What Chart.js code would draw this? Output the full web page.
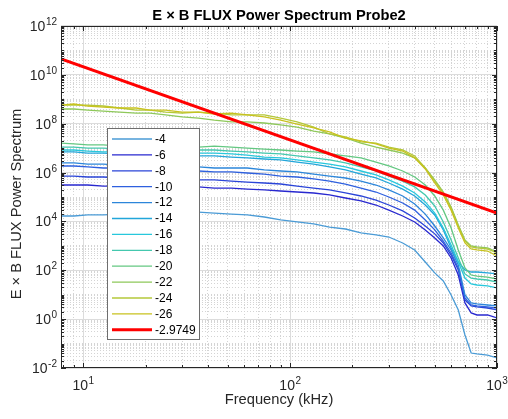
<!DOCTYPE html>
<html>
<head>
<meta charset="utf-8">
<script src="https://cdn.jsdelivr.net/npm/chart.js@4"></script>
<style>
html,body{margin:0;padding:0;background:#fff;}
#wrap{width:508px;height:419px;}
</style>
</head>
<body>
<div id="wrap"><canvas id="c" width="508" height="419"></canvas></div>
<script>
// ---- data ----
const freqKHz = [7.8, 9, 10.5, 12.5, 15, 18, 21, 25, 30, 36, 43, 52, 62, 75, 90, 108, 130, 155, 185, 220, 260, 300, 350, 400, 450, 500, 550, 600, 650, 700, 750, 800, 900, 1000];

const seriesLabels = ['-4', '-6', '-8', '-10', '-12', '-14', '-16', '-18', '-20', '-22', '-24', '-26'];

const p_m4  = [1.67e4,1.67e4,1.84e4,1.84e4,2.0e4,2.0e4,2.2e4,2.2e4,2.4e4,2.4e4,2.2e4,2.0e4,1.84e4,1.52e4,1.15e4,9.5e3,7.9e3,5.9e3,4.9e3,3.4e3,2.8e3,2.3e3,1.31e3,680,219,78,36.5,9.75,2.37,0.225,0.041,0.0375,0.034,0.0257];
const p_m6  = [3.1e5,3.1e5,3.1e5,2.8e5,2.8e5,2.8e5,2.6e5,2.6e5,2.6e5,2.6e5,2.3e5,2.3e5,2.1e5,1.94e5,1.76e5,1.6e5,1.46e5,1.21e5,9.1e4,6.9e4,4.7e4,2.9e4,1.67e4,9.5e3,4.5e3,2.1e3,990,318,64,4.6,1.79,1.48,1.48,1.12];
const p_m8  = [7.2e5,7.2e5,6.6e5,6.6e5,6.0e5,6.0e5,6.0e5,6.0e5,5.5e5,5.0e5,5.0e5,4.5e5,4.1e5,3.75e5,3.4e5,2.8e5,2.3e5,1.94e5,1.46e5,1.1e5,7.5e4,4.7e4,2.7e4,1.38e4,6.5e3,3.1e3,1.31e3,420,103,6.1,3.5,3.15,2.86,2.37];
const p_m10 = [1.86e6,1.86e6,1.7e6,1.54e6,1.54e6,1.4e6,1.28e6,1.28e6,1.28e6,1.16e6,1.06e6,1.06e6,9.6e5,8.7e5,7.2e5,6.6e5,5.5e5,4.5e5,3.4e5,2.3e5,1.6e5,1.0e5,5.7e4,2.9e4,1.15e4,4.5e3,1.58e3,510,124,7.3,3.8,3.5,3.15,2.86];
const p_m12 = [2.5e6,2.5e6,2.2e6,2.2e6,2.0e6,2.0e6,1.86e6,1.86e6,1.7e6,1.7e6,1.54e6,1.54e6,1.54e6,1.28e6,1.16e6,1.06e6,8.7e5,7.2e5,6.0e5,4.5e5,3.1e5,1.94e5,1.1e5,5.2e4,2.0e4,6.5e3,2.1e3,680,165,9.75,4.6,4.2,3.8,3.5];
const p_m14 = [7.0e6,7.0e6,6.3e6,6.3e6,5.8e6,5.2e6,5.2e6,4.8e6,4.8e6,4.8e6,4.8e6,4.3e6,4.0e6,3.6e6,3.3e6,2.7e6,2.2e6,1.7e6,1.28e6,8.7e5,6.0e5,3.75e5,2.1e5,1.1e5,4.7e4,1.84e4,4.5e3,820,219,103,85,85,78,71];
const p_m16 = [8.4e6,8.4e6,7.6e6,7.0e6,7.0e6,6.3e6,6.3e6,6.3e6,5.8e6,6.3e6,6.3e6,5.8e6,5.2e6,4.3e6,4.0e6,3.3e6,2.7e6,2.2e6,1.7e6,1.16e6,8.0e5,5.0e5,2.8e5,1.46e5,6.3e4,2.2e4,5.4e3,1.09e3,219,48,27.5,25,22.8,18.9];
const p_m18 = [1.1e7,1.1e7,1.0e7,1.0e7,9.2e6,8.4e6,8.4e6,7.6e6,7.6e6,8.4e6,8.4e6,7.6e6,7.0e6,6.3e6,5.8e6,4.8e6,4.0e6,3.3e6,2.5e6,1.7e6,1.16e6,7.2e5,4.5e5,2.6e5,1.21e5,4.3e4,9.5e3,1.74e3,318,71,48,44,40,33];
const p_m20 = [1.6e7,1.5e7,1.35e7,1.35e7,1.2e7,1.2e7,1.1e7,1.1e7,1.0e7,1.1e7,1.2e7,1.1e7,1.0e7,9.2e6,8.4e6,7.6e6,7.0e6,5.8e6,4.8e6,4.0e6,2.7e6,1.86e6,1.16e6,6.6e5,3.1e5,1.1e5,2.9e4,5.4e3,680,124,64,58,53,44];
const p_m22 = [4.0e8,4.0e8,3.6e8,3.3e8,3.0e8,2.7e8,2.7e8,2.3e8,1.9e8,1.7e8,1.4e8,1.2e8,1.2e8,1.07e8,8.9e7,7.3e7,5.0e7,3.8e7,2.6e7,1.6e7,1.1e7,8.4e6,6.3e6,4.0e6,1.54e6,5.0e5,1.6e5,3.9e4,7.1e3,1.74e3,990,900,820,560];
const p_m24 = [5.8e8,5.8e8,5.8e8,5.3e8,4.4e8,3.6e8,3.6e8,3.0e8,2.7e8,3.0e8,2.7e8,2.3e8,2.3e8,2.3e8,1.7e8,1.2e8,7.3e7,3.8e7,2.9e7,1.8e7,1.6e7,1.1e7,8.4e6,4.8e6,1.54e6,4.5e5,1.46e5,3.5e4,6.5e3,1.58e3,900,820,745,510];
const p_m26 = [5.8e8,6.4e8,5.3e8,4.8e8,4.4e8,4.4e8,3.6e8,3.6e8,3.0e8,3.0e8,2.5e8,2.7e8,2.3e8,1.9e8,1.4e8,9.7e7,6.7e7,4.6e7,2.6e7,2.0e7,1.5e7,1.0e7,7.6e6,4.0e6,1.4e6,3.75e5,1.21e5,2.9e4,5.4e3,1.31e3,745,680,615,385];

const seriesValues = [p_m4, p_m6, p_m8, p_m10, p_m12, p_m14, p_m16, p_m18, p_m20, p_m22, p_m24, p_m26];

// fitted power law line (slope -2.9749)
const fitLabel = '-2.9749';
const fitFreqKHz = [7.8, 1000];
const fitValues = [4.5e10, 2.2e4];

// tick labels (10 raised to these exponents)
const xMajorTicks = [10, 100, 1000];
const xTickExponents = ['1', '2', '3'];
const yMajorTicks = [1e-2, 1e0, 1e2, 1e4, 1e6, 1e8, 1e10, 1e12];
const yTickExponents = ['-2', '0', '2', '4', '6', '8', '10', '12'];

const chartTitle = 'E × B FLUX Power Spectrum Probe2';
const xTitle = 'Frequency (kHz)';
const yTitle = 'E × B FLUX Power Spectrum';

// styles
const seriesColors = ['#4A9BD6', '#2828CF', '#2A44D8', '#2E60DF', '#2C86DA', '#22A6DA', '#28C8DC', '#44C8AE', '#64C882', '#8EC85A', '#B4C83A', '#C8C21E'];
const fitColor = '#FF0000';
const FONT = "'Liberation Sans', Arial, Helvetica, sans-serif";

// ---- helpers ----
function logTickValues(minExp, maxExp, lo) {
  const out = [];
  for (let e = minExp; e < maxExp; e++) {
    for (let m = 1; m < 10; m++) {
      const v = Number((m * Math.pow(10, e)).toPrecision(6));
      if (v >= lo) out.push(v);
    }
  }
  out.push(Math.pow(10, maxExp));
  return out;
}
const xTickValues = logTickValues(0, 3, 7.8);
const yTickValues = logTickValues(-2, 12, 1e-2);
const majorIndex = (list, v) => list.findIndex(m => Math.abs(v / m - 1) < 1e-6);

// ---- datasets ----
const datasets = seriesLabels.map((lab, i) => ({
  label: lab,
  data: freqKHz.map((f, j) => ({x: f, y: seriesValues[i][j]})),
  borderColor: seriesColors[i],
  backgroundColor: seriesColors[i],
  borderWidth: 1.3,
  pointRadius: 0,
  fill: false,
  tension: 0,
  order: seriesLabels.length - i + 1
}));
datasets.push({
  label: fitLabel,
  data: fitFreqKHz.map((f, j) => ({x: f, y: fitValues[j]})),
  borderColor: fitColor,
  backgroundColor: fitColor,
  borderWidth: 3,
  pointRadius: 0,
  fill: false,
  order: 0
});

function drawPow(ctx, exp, x, baseY, align) {
  ctx.font = '14px ' + FONT;
  const bw = ctx.measureText('10').width;
  ctx.font = '10px ' + FONT;
  const ew = ctx.measureText(exp).width;
  const total = bw + 0.5 + ew;
  const x0 = align === 'center' ? x - total / 2 : x - total;
  ctx.textAlign = 'left';
  ctx.textBaseline = 'alphabetic';
  ctx.font = '14px ' + FONT;
  ctx.fillText('10', x0, baseY);
  ctx.font = '10px ' + FONT;
  ctx.fillText(exp, x0 + bw + 0.5, baseY - 6);
}

// ---- frame, inward ticks, tick labels, y title and legend ----
const framePlugin = {
  id: 'frame',
  afterDatasetsDraw(chart) {
    const {ctx, chartArea, scales} = chart;
    const {left, right, top, bottom} = chartArea;
    const xs = scales.x, ys = scales.y;
    ctx.save();
    ctx.strokeStyle = '#262626';
    ctx.lineWidth = 1;
    ctx.beginPath();
    xs.ticks.forEach(t => {
      const px = Math.round(xs.getPixelForValue(t.value)) + 0.5;
      const len = majorIndex(xMajorTicks, t.value) >= 0 ? 5 : 3;
      ctx.moveTo(px, bottom); ctx.lineTo(px, bottom - len);
      ctx.moveTo(px, top); ctx.lineTo(px, top + len);
    });
    ys.ticks.forEach(t => {
      const py = Math.round(ys.getPixelForValue(t.value)) + 0.5;
      const len = majorIndex(yMajorTicks, t.value) >= 0 ? 5 : 3;
      ctx.moveTo(left, py); ctx.lineTo(left + len, py);
      ctx.moveTo(right, py); ctx.lineTo(right - len, py);
    });
    ctx.stroke();
    ctx.strokeRect(left + 0.5, top + 0.5, right - left - 1, bottom - top - 1);

    // tick labels
    ctx.fillStyle = '#262626';
    xMajorTicks.forEach((v, i) => drawPow(ctx, xTickExponents[i], xs.getPixelForValue(v), bottom + 22, 'center'));
    yMajorTicks.forEach((v, i) => drawPow(ctx, yTickExponents[i], left - 4, ys.getPixelForValue(v) + 5, 'right'));

    // y axis title
    ctx.save();
    ctx.translate(17, (top + bottom) / 2 + 7);
    ctx.rotate(-Math.PI / 2);
    ctx.font = '14.7px ' + FONT;
    ctx.textAlign = 'center';
    ctx.textBaseline = 'middle';
    ctx.fillStyle = '#262626';
    ctx.fillText(yTitle, 0, 0);
    ctx.restore();

    // legend
    const bx = 107, by = 128, bw = 92, bh = 211;
    ctx.fillStyle = '#ffffff';
    ctx.fillRect(bx, by, bw, bh);
    ctx.strokeStyle = '#6e6e6e';
    ctx.lineWidth = 1;
    ctx.strokeRect(bx + 0.5, by + 0.5, bw, bh);
    ctx.font = '12px ' + FONT;
    ctx.textBaseline = 'middle';
    ctx.textAlign = 'left';
    chart.data.datasets.forEach((ds, i) => {
      const y = 139 + i * 15.9;
      ctx.strokeStyle = ds.borderColor;
      ctx.lineWidth = ds.borderWidth;
      ctx.beginPath();
      ctx.moveTo(112, y); ctx.lineTo(152, y);
      ctx.stroke();
      ctx.fillStyle = '#000000';
      ctx.fillText(ds.label, 155, y + 0.5);
    });
    ctx.restore();
  }
};

new Chart(document.getElementById('c'), {
  type: 'line',
  data: {datasets},
  options: {
    responsive: false,
    animation: false,
    devicePixelRatio: 1,
    layout: {padding: {left: 0, right: 11, top: 0, bottom: 0}},
    plugins: {
      legend: {display: false},
      tooltip: {enabled: false},
      title: {
        display: true,
        text: chartTitle,
        fullSize: false,
        color: '#000000',
        font: {family: FONT, size: 14.7, weight: 'bold'},
        padding: {top: 7, bottom: 1.36}
      }
    },
    scales: {
      x: {
        type: 'logarithmic',
        min: 7.8,
        max: 1000,
        afterBuildTicks(scale) { scale.ticks = xTickValues.map(v => ({value: v})); },
        afterFit(scale) { scale.height = 51; },
        ticks: {display: false, autoSkip: false},
        grid: {
          drawTicks: false,
          lineWidth: 1,
          color: c => majorIndex(xMajorTicks, c.tick.value) >= 0 ? '#dcdcdc' : '#d4d4d4'
        },
        border: {display: false, dash: c => majorIndex(xMajorTicks, c.tick.value) >= 0 ? [] : [1, 2]},
        title: {display: true, text: xTitle, color: '#262626', font: {family: FONT, size: 14.7}, padding: {top: 0, bottom: 10.2}}
      },
      y: {
        type: 'logarithmic',
        min: 1e-2,
        max: 1e12,
        afterBuildTicks(scale) { scale.ticks = yTickValues.map(v => ({value: v})); },
        afterFit(scale) { scale.width = 61; },
        ticks: {display: false, autoSkip: false},
        grid: {
          drawTicks: false,
          lineWidth: 1,
          color: c => majorIndex(yMajorTicks, c.tick.value) >= 0 ? '#dcdcdc' : '#d4d4d4'
        },
        border: {display: false, dash: c => majorIndex(yMajorTicks, c.tick.value) >= 0 ? [] : [1, 2]},
        title: {display: false}
      }
    }
  },
  plugins: [framePlugin]
});
</script>
</body>
</html>
